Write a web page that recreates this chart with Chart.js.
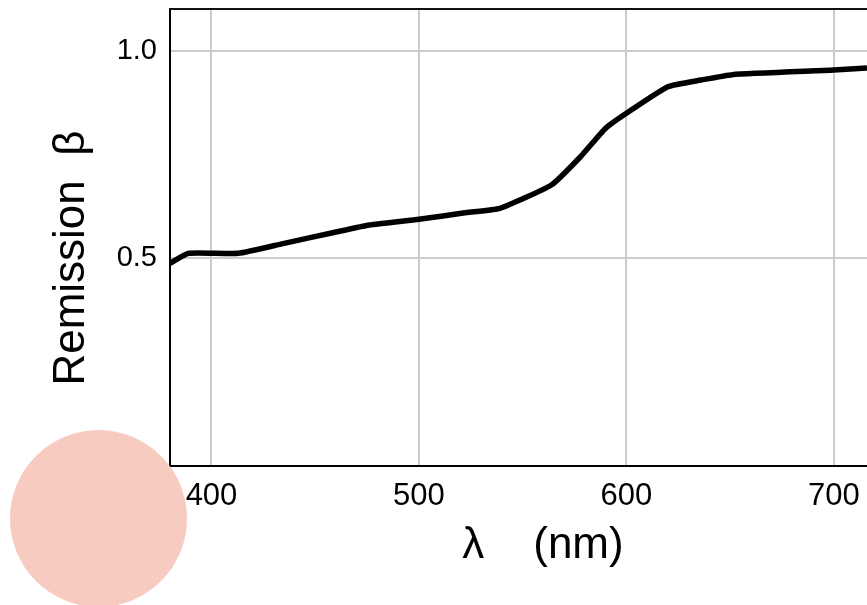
<!DOCTYPE html>
<html><head><meta charset="utf-8">
<script src="https://cdn.jsdelivr.net/npm/chart.js@4"></script>
<style>html,body{margin:0;padding:0;background:#fff;overflow:hidden}#wrap{width:867px;height:605px;position:relative}</style>
</head><body><div id="wrap"><canvas id="c" width="867" height="605"></canvas></div>
<script>
const wavelengths = [380,389,413,435,459,476,500,523,539,564,578,590,600,620,636,651,700,716];
const remission  = [0.488,0.512,0.512,0.536,0.562,0.580,0.594,0.610,0.620,0.677,0.745,0.813,0.849,0.913,0.929,0.942,0.953,0.958];
const xTicks = [400,500,600,700];
const yTicks = [0.5,1.0];
const xTitle = 'λ    (nm)';
const yTitle = 'Remission  β';
const FONT = "'Liberation Sans', Arial, Helvetica, sans-serif";

const decor = {
  id: 'decor',
  afterDraw(chart) {
    const ctx = chart.ctx, a = chart.chartArea;
    ctx.save();
    ctx.strokeStyle = '#111';
    ctx.lineWidth = 2;
    ctx.beginPath();
    ctx.moveTo(a.left - 1, a.top);
    ctx.lineTo(a.right + 2, a.top);
    ctx.stroke();
    ctx.fillStyle = '#000';
    ctx.font = '44px ' + FONT;
    ctx.textAlign = 'center';
    ctx.textBaseline = 'middle';
    ctx.fillText(xTitle, 543, 546);
    ctx.save();
    ctx.translate(72, 258);
    ctx.rotate(-Math.PI / 2);
    ctx.fillText(yTitle, 0, 0);
    ctx.restore();
    ctx.fillStyle = '#f7cbc0';
    ctx.beginPath();
    ctx.arc(98.5, 518.5, 88.5, 0, Math.PI * 2);
    ctx.fill();
    ctx.restore();
  }
};

new Chart(document.getElementById('c'), {
  type: 'line',
  data: {
    datasets: [{
      data: wavelengths.map((x, i) => ({x, y: remission[i]})),
      borderColor: '#000',
      borderWidth: 5.5,
      pointRadius: 0,
      tension: 0.15,
      fill: false
    }]
  },
  options: {
    responsive: false,
    animation: false,
    devicePixelRatio: 1,
    layout: {padding: {top: 9, left: 0, right: 0, bottom: 0}},
    plugins: {legend: {display: false}, tooltip: {enabled: false}, title: {display: false}},
    scales: {
      x: {
        type: 'linear',
        min: 380, max: 716,
        afterBuildTicks: s => { s.ticks = xTicks.map(v => ({value: v})); },
        afterFit: s => { s.height = 139; s.paddingLeft = 0; s.paddingRight = 0; },
        ticks: {autoSkip: false, maxRotation: 0, color: '#000', padding: 12,
                font: {family: FONT, size: 31}, callback: v => String(v)},
        grid: {color: '#cccccc', lineWidth: 2, drawTicks: false},
        border: {color: '#000', width: 2}
      },
      y: {
        min: 0, max: 1.1,
        afterBuildTicks: s => { s.ticks = yTicks.map(v => ({value: v})); },
        afterFit: s => { s.width = 170; s.paddingTop = 0; s.paddingBottom = 0; },
        ticks: {color: '#000', padding: 13, font: {family: FONT, size: 29},
                callback: v => Number(v).toFixed(1)},
        grid: {color: '#cccccc', lineWidth: 2, drawTicks: false},
        border: {color: '#000', width: 2}
      }
    }
  },
  plugins: [decor]
});
</script></body></html>
